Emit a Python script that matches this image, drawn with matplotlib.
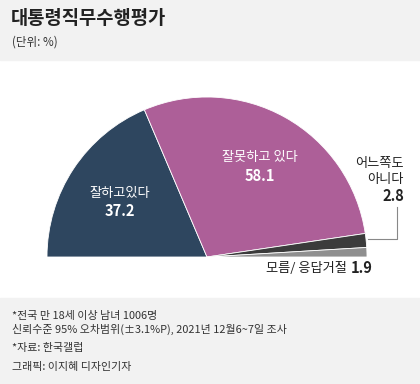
import matplotlib.pyplot as plt
from matplotlib.patches import Rectangle

plt.rcParams['font.family'] = ['Noto Sans CJK KR', 'DejaVu Sans']

labels = ['잘하고있다', '잘못하고 있다', '어느쪽도 아니다', '모름/ 응답거절']
values = [37.2, 58.1, 2.8, 1.9]
colors = ['#2e465f', '#ad5f98', '#3b3b3b', '#8f8f8f']

notes = ['*전국 만 18세 이상 남녀 1006명',
         '신뢰수준 95% 오차범위(±3.1%P), 2021년 12월6~7일 조사',
         '*자료: 한국갤럽',
         '그래픽: 이지혜 디자인기자']

W, H = 420, 384
fig = plt.figure(figsize=(W / 100, H / 100), dpi=100)
ax = fig.add_axes([0, 0, 1, 1])


def Y(py):
    # pixel row from top -> data y
    return H - py


# header and footer bands
ax.add_patch(Rectangle((0, Y(60)), W, 60, color='#f2f2f2', zorder=0))
ax.add_patch(Rectangle((0, 0), W, H - 298, color='#f2f2f2', zorder=0))

ax.text(11, Y(18), '대통령직무수행평가', fontsize=13.5, fontweight='bold',
        color='#222222', va='center')
ax.text(12, Y(42), '(단위: %)', fontsize=8.3, color='#333333', va='center')

# half donut: add a hidden slice for the lower half
wedges, _ = ax.pie(values + [sum(values)], colors=colors + ['none'],
                   startangle=180, counterclock=False, radius=160,
                   center=(207, Y(257)), frame=True,
                   wedgeprops=dict(edgecolor='white', linewidth=0.6))
wedges[-1].set_edgecolor('none')
ax.set_xlim(0, W)
ax.set_ylim(0, H)
ax.axis('off')

ax.text(120, Y(193), labels[0], fontsize=9.5, color='white', ha='center', va='center')
ax.text(120, Y(211), f'{values[0]}', fontsize=10.5, fontweight='bold', color='white',
        ha='center', va='center')
ax.text(260, Y(158), labels[1], fontsize=9.5, color='white', ha='center', va='center')
ax.text(260, Y(176), f'{values[1]}', fontsize=10.5, fontweight='bold', color='white',
        ha='center', va='center')

ax.text(404, Y(163), '어느쪽도', fontsize=9.5, color='#222222', ha='right', va='center')
ax.text(404, Y(179), '아니다', fontsize=9.5, color='#222222', ha='right', va='center')
ax.text(404, Y(196), f'{values[2]}', fontsize=10.5, fontweight='bold', color='#222222',
        ha='right', va='center')
ax.plot([397, 397, 368], [Y(207), Y(239), Y(239)], color='#888888', lw=0.8)

ax.text(347, Y(268), labels[3], fontsize=9.5, color='#222222', ha='right', va='center')
ax.text(351, Y(268), f'{values[3]}', fontsize=10.5, fontweight='bold', color='#222222',
        ha='left', va='center')

for txt, py in zip(notes, [316, 329, 348, 367]):
    ax.text(12, Y(py), txt, fontsize=7.9, color='#333333', va='center')

plt.savefig('out.png', dpi=100)
